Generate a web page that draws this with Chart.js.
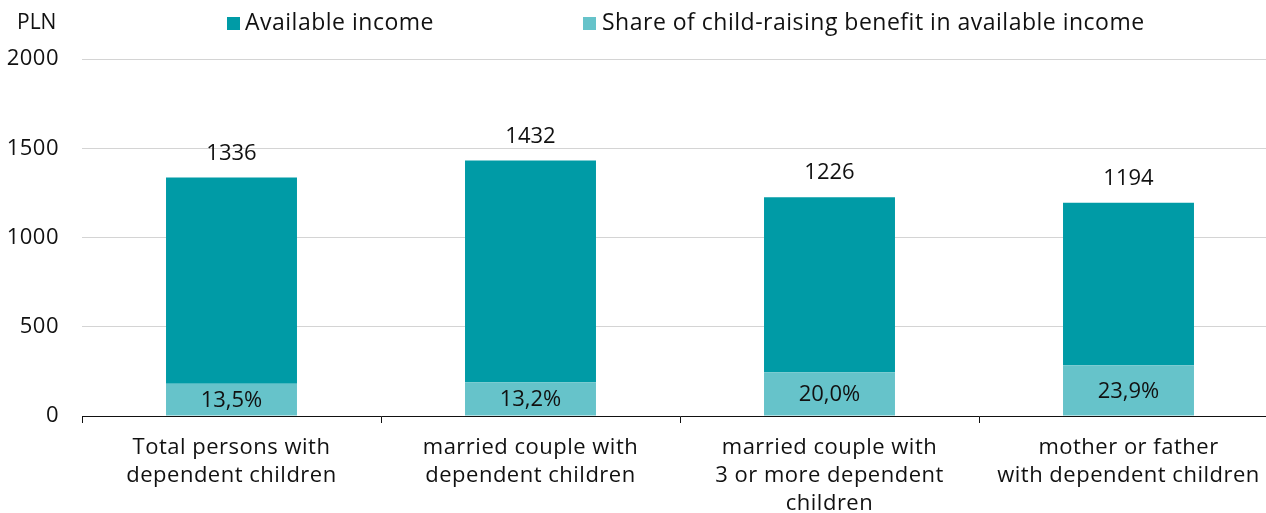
<!DOCTYPE html>
<html><head><meta charset="utf-8">
<script src="https://cdn.jsdelivr.net/npm/chart.js@4/dist/chart.umd.min.js"></script>
<style>html,body{margin:0;padding:0;background:#fff;overflow:hidden;width:1266px;height:513px}#wrap{width:1278px;height:513px}</style>
</head><body><div id="wrap"><canvas id="c" width="1278" height="513"></canvas></div>
<script>
const categories = [
  ["Total persons with","dependent children"],
  ["married couple with","dependent children"],
  ["married couple with","3 or more dependent","children"],
  ["mother or father","with dependent children"]
];
const availableIncome = [1336, 1432, 1226, 1194];
const benefitAmount = [180, 189, 245, 285];
const benefitShareLabels = ["13,5%", "13,2%", "20,0%", "23,9%"];
const yTicks = [0, 500, 1000, 1500, 2000];
const seriesNames = ["Available income", "Share of child-raising benefit in available income"];

const FONT = "'Open Sans'";
const FS = 22;
const DARK = "#009ba6";
const LIGHT = "#66c3ca";
const TXT = "#111";
const restIncome = availableIncome.map((v, i) => v - benefitAmount[i]);

const spacingPlugin = {
  id: "spacing",
  beforeLayout(chart) { chart.ctx.letterSpacing = "0.5px"; },
  beforeDraw(chart) { chart.ctx.letterSpacing = "0.5px"; }
};

const labelsPlugin = {
  id: "labels",
  afterDatasetsDraw(chart) {
    const ctx = chart.ctx;
    ctx.save();
    ctx.letterSpacing = "0px";
    ctx.fillStyle = TXT;
    ctx.font = FS + "px " + FONT;
    ctx.textAlign = "center";
    ctx.textBaseline = "middle";
    const m0 = chart.getDatasetMeta(0), m1 = chart.getDatasetMeta(1);
    m0.data.forEach((el, i) => {
      ctx.fillText(benefitShareLabels[i], el.x, (el.y + el.base) / 2 + 1);
    });
    m1.data.forEach((el, i) => {
      ctx.fillText(String(availableIncome[i]), el.x, el.y - 24);
    });
    ctx.textAlign = "left";
    ctx.font = "21px " + FONT;
    ctx.fillText("PLN", 17, 23);
    // legend (series order: Available income, then Share)
    ctx.font = "23px " + FONT;
    ctx.letterSpacing = "0.5px";
    const items = [
      { ds: chart.data.datasets[1], box: 227, text: 245 },
      { ds: chart.data.datasets[0], box: 583, text: 602 }
    ];
    items.forEach(it => {
      ctx.fillStyle = it.ds.backgroundColor;
      ctx.fillRect(it.box, 17, 13, 13);
      ctx.fillStyle = TXT;
      ctx.fillText(it.ds.label, it.text, 23);
    });
    ctx.restore();
  }
};

new Chart(document.getElementById("c"), {
  type: "bar",
  data: {
    labels: categories,
    datasets: [
      { label: seriesNames[1], data: benefitAmount, backgroundColor: LIGHT, stack: "s", barPercentage: 0.876, categoryPercentage: 0.5 },
      { label: seriesNames[0], data: restIncome, backgroundColor: DARK, stack: "s", barPercentage: 0.876, categoryPercentage: 0.5 }
    ]
  },
  options: {
    responsive: false,
    animation: false,
    layout: { padding: { left: 0, right: 0, top: 59, bottom: 0 } },
    plugins: {
      legend: { display: false },
      tooltip: { enabled: false }
    },
    scales: {
      x: {
        stacked: true,
        offset: true,
        afterFit(s) { s.height = 97; },
        grid: { offset: true, drawOnChartArea: false, drawTicks: true, tickLength: 7, color: TXT },
        border: { display: true, color: TXT, width: 1 },
        ticks: { font: { family: FONT, size: FS, lineHeight: 1.27 }, color: TXT, padding: 11, maxRotation: 0, autoSkip: false }
      },
      y: {
        stacked: true,
        min: 0, max: 2000,
        afterBuildTicks(s) { s.ticks = yTicks.map(v => ({ value: v })); },
        afterFit(s) { s.width = 82; },
        grid: { color: "#d4d4d4", drawTicks: false },
        border: { display: false },
        ticks: { font: { family: FONT, size: FS }, color: TXT, padding: 23, callback: v => String(v) }
      }
    }
  },
  plugins: [spacingPlugin, labelsPlugin]
});
</script></body></html>
